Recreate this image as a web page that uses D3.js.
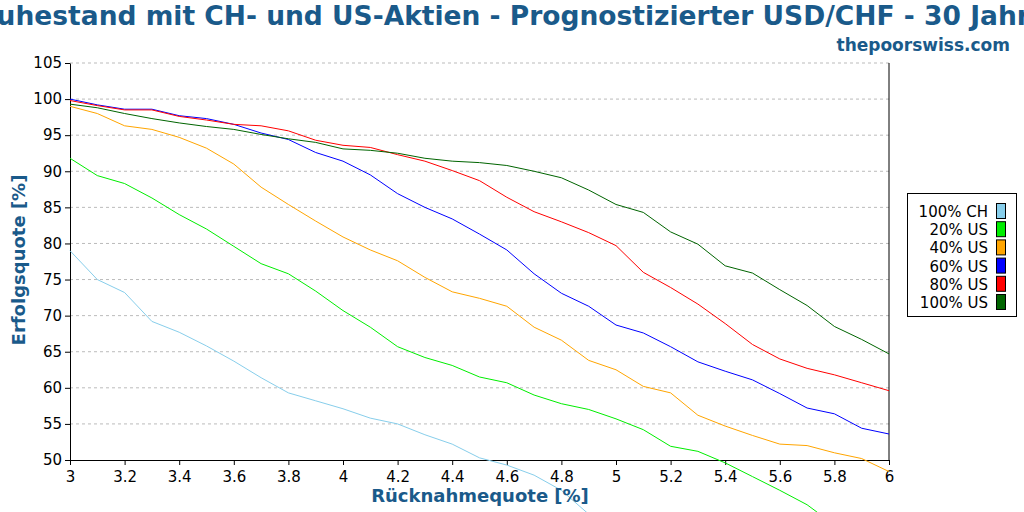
<!DOCTYPE html><html><head><meta charset="utf-8"><script src="https://cdn.jsdelivr.net/npm/d3@7"></script>
<style>body{margin:0;background:#fff}svg{display:block}</style></head><body><svg id="c" width="1024" height="512"></svg>
<script>
const rates=d3.range(31).map(i=>+(3+i*0.1).toFixed(1));
const seriesNames=["100% CH","20% US","40% US","60% US","80% US","100% US"];
const colors=["#87ceeb","#00ee00","#ffa500","#0000ff","#ff0000","#006400"];
const ch100=[79,75,73.2,69.2,67.7,65.8,63.7,61.4,59.3,58.2,57.1,55.8,55,53.5,52.2,50.3,49.3,47.9,45.8,42.5,40,38,36,34,32,30,28,26,24,22,20];
const us20=[91.8,89.4,88.3,86.3,84,82,79.6,77.2,75.8,73.4,70.7,68.4,65.7,64.2,63.1,61.5,60.7,59,57.8,57,55.7,54.2,51.9,51.2,49.6,47.7,45.8,43.8,41,38,35];
const us40=[99,98,96.3,95.8,94.7,93.2,91,87.8,85.4,83.1,80.9,79.1,77.6,75.3,73.3,72.4,71.3,68.4,66.6,63.8,62.5,60.2,59.3,56.2,54.7,53.4,52.2,52,51,50.2,48.4];
const us60=[100,99.2,98.6,98.6,97.7,97.3,96.5,95.3,94.4,92.6,91.4,89.5,86.9,85,83.4,81.3,79.1,75.8,73.1,71.3,68.7,67.6,65.7,63.6,62.3,61.1,59.2,57.2,56.4,54.4,53.6];
const us80=[99.8,99.1,98.5,98.5,97.6,97.1,96.5,96.3,95.6,94.3,93.6,93.3,92.3,91.4,90.1,88.7,86.4,84.4,83,81.5,79.7,76,73.9,71.6,68.9,66,64,62.7,61.8,60.7,59.6];
const us100=[99.3,98.8,98,97.3,96.7,96.2,95.8,95.1,94.5,94,93.1,92.9,92.5,91.8,91.4,91.2,90.8,90,89.1,87.4,85.4,84.3,81.6,79.9,76.9,75.9,73.6,71.4,68.5,66.7,64.7];
const allSeries=[ch100,us20,us40,us60,us80,us100];
const xTicks=[3,3.2,3.4,3.6,3.8,4,4.2,4.4,4.6,4.8,5,5.2,5.4,5.6,5.8,6];
const yTicks=d3.range(50,106,5);

const svg=d3.select("#c");
const x=d3.scaleLinear().domain([3,6]).range([70,889]);
const y=d3.scaleLinear().domain([50,105]).range([460,63]);
const F="DejaVu Sans, sans-serif", blue="#1a5a8a";
svg.append("g").selectAll("line").data(yTicks.slice(1)).join("line")
 .attr("x1",70).attr("x2",889).attr("y1",d=>y(d)).attr("y2",d=>y(d))
 .attr("stroke","#bbb").attr("stroke-dasharray","3,3");
const gx=svg.append("g").attr("transform","translate(0,460)").call(d3.axisBottom(x).tickValues(xTicks).tickSize(5).tickSizeOuter(0).tickFormat(d3.format("")));
const gy=svg.append("g").attr("transform","translate(70,0)").call(d3.axisLeft(y).tickValues(yTicks).tickSize(5).tickSizeOuter(0));
svg.append("line").attr("x1",889).attr("x2",889).attr("y1",63).attr("y2",460).attr("stroke","#000");
[gx,gy].forEach(g=>{g.selectAll("text").attr("font-family",F).attr("font-size",15).attr("fill","#000");g.selectAll("line,path").attr("stroke","#000")});
gx.selectAll("text").attr("dy","0.9em");
const line=d3.line().x((d,i)=>x(rates[i])).y(d=>y(d));
allSeries.forEach((s,k)=>svg.append("path").attr("d",line(s)).attr("fill","none").attr("stroke",colors[k]).attr("stroke-width",1));
svg.append("text").attr("x",512).attr("y",25).attr("text-anchor","middle").attr("font-family",F).attr("font-weight","bold").attr("font-size",26.5).attr("fill",blue).text("Ruhestand mit CH- und US-Aktien - Prognostizierter USD/CHF - 30 Jahre");
svg.append("text").attr("x",1010).attr("y",51).attr("text-anchor","end").attr("font-family",F).attr("font-weight","bold").attr("font-size",17).attr("fill",blue).text("thepoorswiss.com");
svg.append("text").attr("x",480).attr("y",502).attr("text-anchor","middle").attr("font-family",F).attr("font-weight","bold").attr("font-size",18).attr("fill",blue).text("Rücknahmequote [%]");
svg.append("text").attr("transform","translate(25,260) rotate(-90)").attr("text-anchor","middle").attr("font-family",F).attr("font-weight","bold").attr("font-size",18).attr("fill",blue).text("Erfolgsquote [%]");
const lg=svg.append("g");
lg.append("rect").attr("x",907.5).attr("y",193.5).attr("width",109).attr("height",123).attr("fill","#fff").attr("stroke","#000");
seriesNames.forEach((n,k)=>{const yy=211+k*18.2;
 lg.append("text").attr("x",988).attr("y",yy+6).attr("text-anchor","end").attr("font-family",F).attr("font-size",15).text(n);
 lg.append("rect").attr("x",996.5).attr("y",yy-7.5).attr("width",9).attr("height",15).attr("fill",colors[k]).attr("stroke","#000");});
</script></body></html>
